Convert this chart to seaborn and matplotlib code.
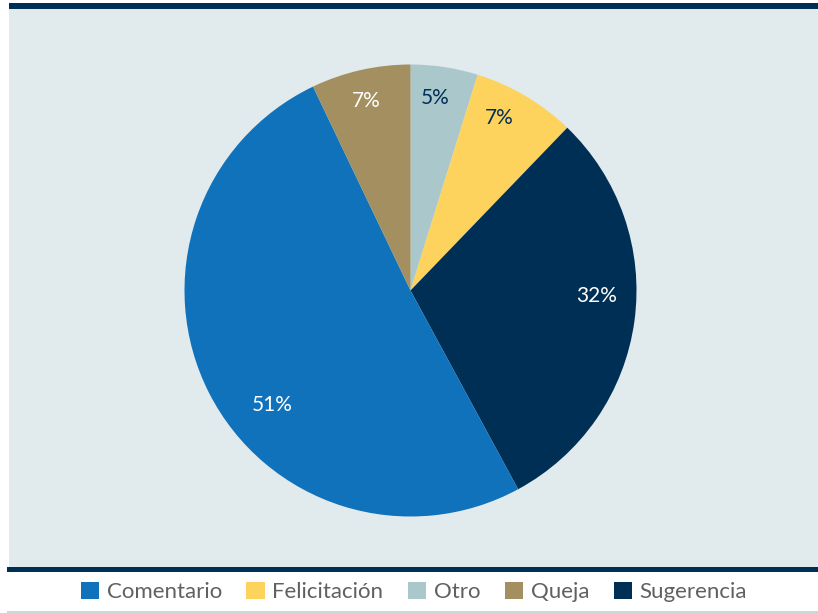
import matplotlib
matplotlib.use("Agg")
import matplotlib.pyplot as plt
import seaborn as sns
import numpy as np
from matplotlib.patches import Rectangle, Patch

# data (order drawn clockwise from 12 o'clock)
categories = ["Otro", "Felicitación", "Sugerencia", "Comentario", "Queja"]
shares = [4.8, 7.4, 29.9, 50.8, 7.1]
shown_pct = ["5%", "7%", "32%", "51%", "7%"]
legend_order = ["Comentario", "Felicitación", "Otro", "Queja", "Sugerencia"]

colors = {
    "Comentario": "#0f72bb",
    "Felicitación": "#fed35d",
    "Otro": "#aac8cb",
    "Queja": "#a38f5f",
    "Sugerencia": "#002f56",
}
label_colors = {
    "Comentario": "white",
    "Felicitación": "#002f56",
    "Otro": "#002f56",
    "Queja": "white",
    "Sugerencia": "white",
}
# label placement tweaks (degrees ccw from wedge middle, radius as fraction)
label_shift = [1.4, 3.4, 6.0, 12.6, 0.5]
label_radius = [0.86, 0.86, 0.826, 0.795, 0.86]

sns.set_theme(style="white")
plt.rcParams["font.family"] = ["Lato", "DejaVu Sans"]

W, H = 818, 613
fig = plt.figure(figsize=(W / 100, H / 100), dpi=100)
fig.patch.set_facecolor("white")


def frect(x0, y0, x1, y1, color):
    # rectangle in pixel coords (top-left origin) -> figure fraction
    fig.patches.append(Rectangle((x0 / W, 1 - y1 / H), (x1 - x0) / W, (y1 - y0) / H,
                                 transform=fig.transFigure, facecolor=color,
                                 edgecolor="none", zorder=-1))


frect(9, 9, W, 567, "#e1eaec")      # panel
frect(9, 3, W, 9, "#002f56")        # top bar
frect(7, 567, W, 572, "#002f56")    # bottom bar
frect(7, 611, W, 613, "#c9d8dd")    # thin line under legend

# pie
cx, cy, r = 410.5, 290.5, 226
ax = fig.add_axes([(cx - r) / W, 1 - (cy + r) / H, 2 * r / W, 2 * r / H], zorder=2)
ax.set_facecolor("none")
pct_iter = iter(shown_pct)
wedges, texts, autotexts = ax.pie(
    shares,
    colors=[colors[c] for c in categories],
    startangle=90,
    counterclock=False,
    autopct=lambda p: next(pct_iter),
    pctdistance=0.84,
    wedgeprops=dict(linewidth=0),
    textprops=dict(fontsize=15),
)
for w, t, c, d, rr in zip(wedges, autotexts, categories, label_shift, label_radius):
    t.set_color(label_colors[c])
    mid = np.deg2rad((w.theta1 + w.theta2) / 2 + d)
    t.set_position((rr * np.cos(mid), rr * np.sin(mid)))
ax.set_xlim(-1, 1)
ax.set_ylim(-1, 1)
ax.set_aspect("equal")
ax.axis("off")

# legend
handles = [Patch(facecolor=colors[c], edgecolor="none", label=c) for c in legend_order]
leg = fig.legend(handles=handles, ncol=5, loc="center", bbox_to_anchor=(414 / W, 1 - 592 / H),
                 frameon=False, fontsize=16, handlelength=0.82, handleheight=0.82,
                 handletextpad=0.35, columnspacing=1.1, borderaxespad=0)
for t in leg.get_texts():
    t.set_color("#606060")

fig.savefig("out.png", dpi=100)
